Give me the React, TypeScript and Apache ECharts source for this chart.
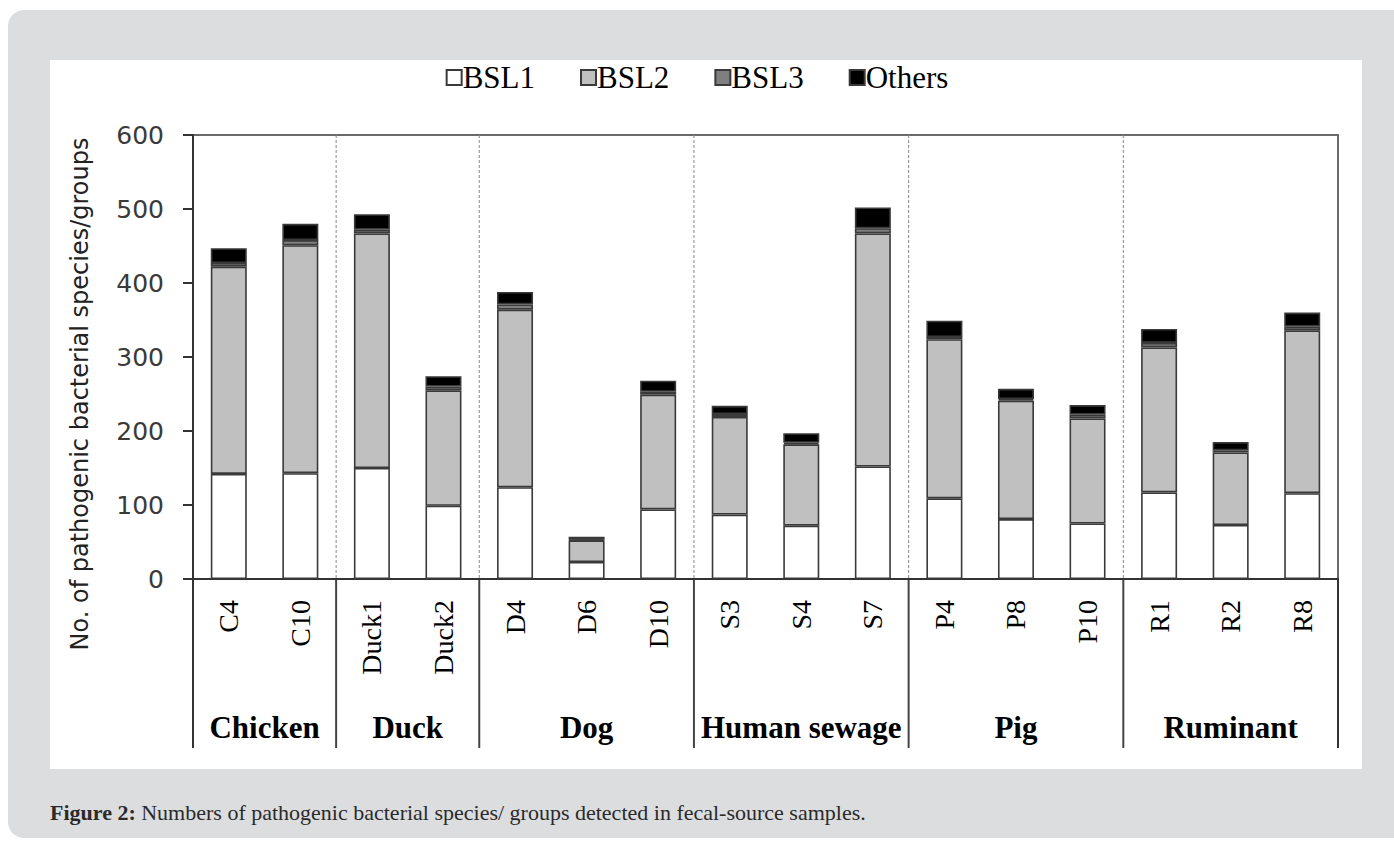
import React, { useEffect, useRef } from "react";
import * as echarts from "echarts";

const categories = ["C4", "C10", "Duck1", "Duck2", "D4", "D6", "D10", "S3", "S4", "S7", "P4", "P8", "P10", "R1", "R2", "R8"];
const bsl1 = [142, 143, 150, 99, 124, 23, 94, 87, 72, 152, 109, 81, 75, 117, 73, 116];
const bsl2 = [280, 308, 317, 156, 240, 29, 155, 132, 110, 315, 215, 160, 142, 196, 98, 220];
const bsl3 = [5, 7, 5, 5, 7, 1, 4, 4, 2, 7, 3, 2, 5, 6, 3, 5];
const others = [20, 22, 21, 14, 17, 4, 15, 11, 13, 28, 22, 14, 13, 19, 11, 19];
const groupNames = ["Chicken", "Duck", "Dog", "Human sewage", "Pig", "Ruminant"];
const groupSizes = [2, 2, 3, 3, 3, 3];
const yTicks = [0, 100, 200, 300, 400, 500, 600];

const SERIF = "'Liberation Serif', 'Times New Roman', serif";
const SANS = "'DejaVu Sans', Verdana, sans-serif";

export default function App() {
  const ref = useRef<HTMLDivElement>(null);
  useEffect(() => {
    if (!ref.current) return;
    const chart = echarts.init(ref.current, undefined, { renderer: "svg" });
    const mk = (name: string, data: number[], color: string) => ({
      name,
      type: "bar",
      stack: "total",
      data,
      barWidth: 36,
      itemStyle: { color, borderColor: "#3a3a3a", borderWidth: 1.6 },
    });
    chart.setOption({
      animation: false,
      backgroundColor: "transparent",
      legend: {
        top: 57,
        left: "center",
        icon: "rect",
        itemWidth: 15,
        itemHeight: 15,
        itemGap: 45,
        textStyle: { fontFamily: SERIF, fontSize: 31, color: "#000", padding: [0, 0, 0, -4] },
        data: ["BSL1", "BSL2", "BSL3", "Others"],
      },
      grid: { left: 193, right: 56, top: 135, bottom: 262, show: true, borderColor: "#6a6a6a", borderWidth: 2 },
      xAxis: {
        type: "category",
        data: categories,
        axisLine: { show: true, lineStyle: { color: "#333", width: 2 } },
        axisTick: { show: false },
        axisLabel: { rotate: 90, margin: 21, fontFamily: SERIF, fontSize: 28, color: "#000" },
      },
      yAxis: {
        type: "value",
        min: yTicks[0],
        max: yTicks[yTicks.length - 1],
        interval: 100,
        axisLine: { show: true, lineStyle: { color: "#333", width: 2 } },
        axisTick: { show: true, inside: false, length: 10, lineStyle: { color: "#333", width: 2 } },
        axisLabel: { margin: 29, fontFamily: SANS, fontSize: 25, color: "#3a3a3a" },
        splitLine: { show: false },
      },
      series: [
        mk("BSL1", bsl1, "#ffffff"),
        mk("BSL2", bsl2, "#c0c0c0"),
        mk("BSL3", bsl3, "#7f7f7f"),
        mk("Others", others, "#000000"),
      ],
    });

    const c0 = chart.convertToPixel({ xAxisIndex: 0 }, categories[0]) as number;
    const c1 = chart.convertToPixel({ xAxisIndex: 0 }, categories[1]) as number;
    const band = c1 - c0;
    const left = c0 - band / 2;
    const yZero = chart.convertToPixel({ yAxisIndex: 0 }, 0) as number;
    const yTop = chart.convertToPixel({ yAxisIndex: 0 }, 600) as number;
    const yBottom = 748;
    const elements: any[] = [];
    let idx = 0;
    const bounds: number[] = [left];
    groupSizes.forEach((s) => {
      idx += s;
      bounds.push(left + idx * band);
    });
    bounds.forEach((bx, i) => {
      const inner = i > 0 && i < bounds.length - 1;
      if (inner) {
        elements.push({
          type: "line",
          shape: { x1: bx, y1: yTop, x2: bx, y2: yZero },
          style: { stroke: "#8a8a8a", lineWidth: 1, lineDash: [3, 2] },
          silent: true,
        });
      }
      elements.push({
        type: "line",
        shape: { x1: bx, y1: yZero, x2: bx, y2: yBottom },
        style: { stroke: inner ? "#444" : "#333", lineWidth: 2 },
        silent: true,
      });
    });
    groupNames.forEach((g, i) => {
      elements.push({
        type: "text",
        x: (bounds[i] + bounds[i + 1]) / 2,
        y: 727,
        style: {
          text: g,
          fontFamily: SERIF,
          fontWeight: "bold",
          fontSize: 31,
          fill: "#000",
          align: "center",
          verticalAlign: "middle",
        },
        silent: true,
      });
    });
    elements.push({
      type: "text",
      x: 80,
      y: 394,
      rotation: Math.PI / 2,
      style: {
        text: "No. of pathogenic bacterial species/groups",
        fontFamily: SANS,
        fontSize: 24,
        fill: "#222",
        align: "center",
        verticalAlign: "middle",
      },
      silent: true,
    });
    elements.push({
      type: "text",
      x: 50,
      y: 812,
      style: {
        text: "{b|Figure 2:} Numbers of pathogenic bacterial species/ groups detected in fecal-source samples.",
        fontFamily: SERIF,
        fontSize: 22,
        fill: "#2a2a2a",
        verticalAlign: "middle",
        rich: { b: { fontFamily: SERIF, fontSize: 22, fontWeight: "bold", fill: "#2a2a2a" } },
      },
      silent: true,
    });
    chart.setOption({ graphic: { elements } });
    return () => chart.dispose();
  }, []);

  return (
    <div style={{ position: "fixed", left: 0, top: 0, width: 1394, height: 841, background: "#ffffff", overflow: "hidden" }}>
      <div style={{ position: "absolute", left: 8, top: 10, width: 1420, height: 828, background: "#dcdddf", borderRadius: 16 }} />
      <div style={{ position: "absolute", left: 50, top: 60, width: 1312, height: 709, background: "#ffffff" }} />
      <div ref={ref} style={{ position: "absolute", left: 0, top: 0, width: 1394, height: 841 }} />
    </div>
  );
}
